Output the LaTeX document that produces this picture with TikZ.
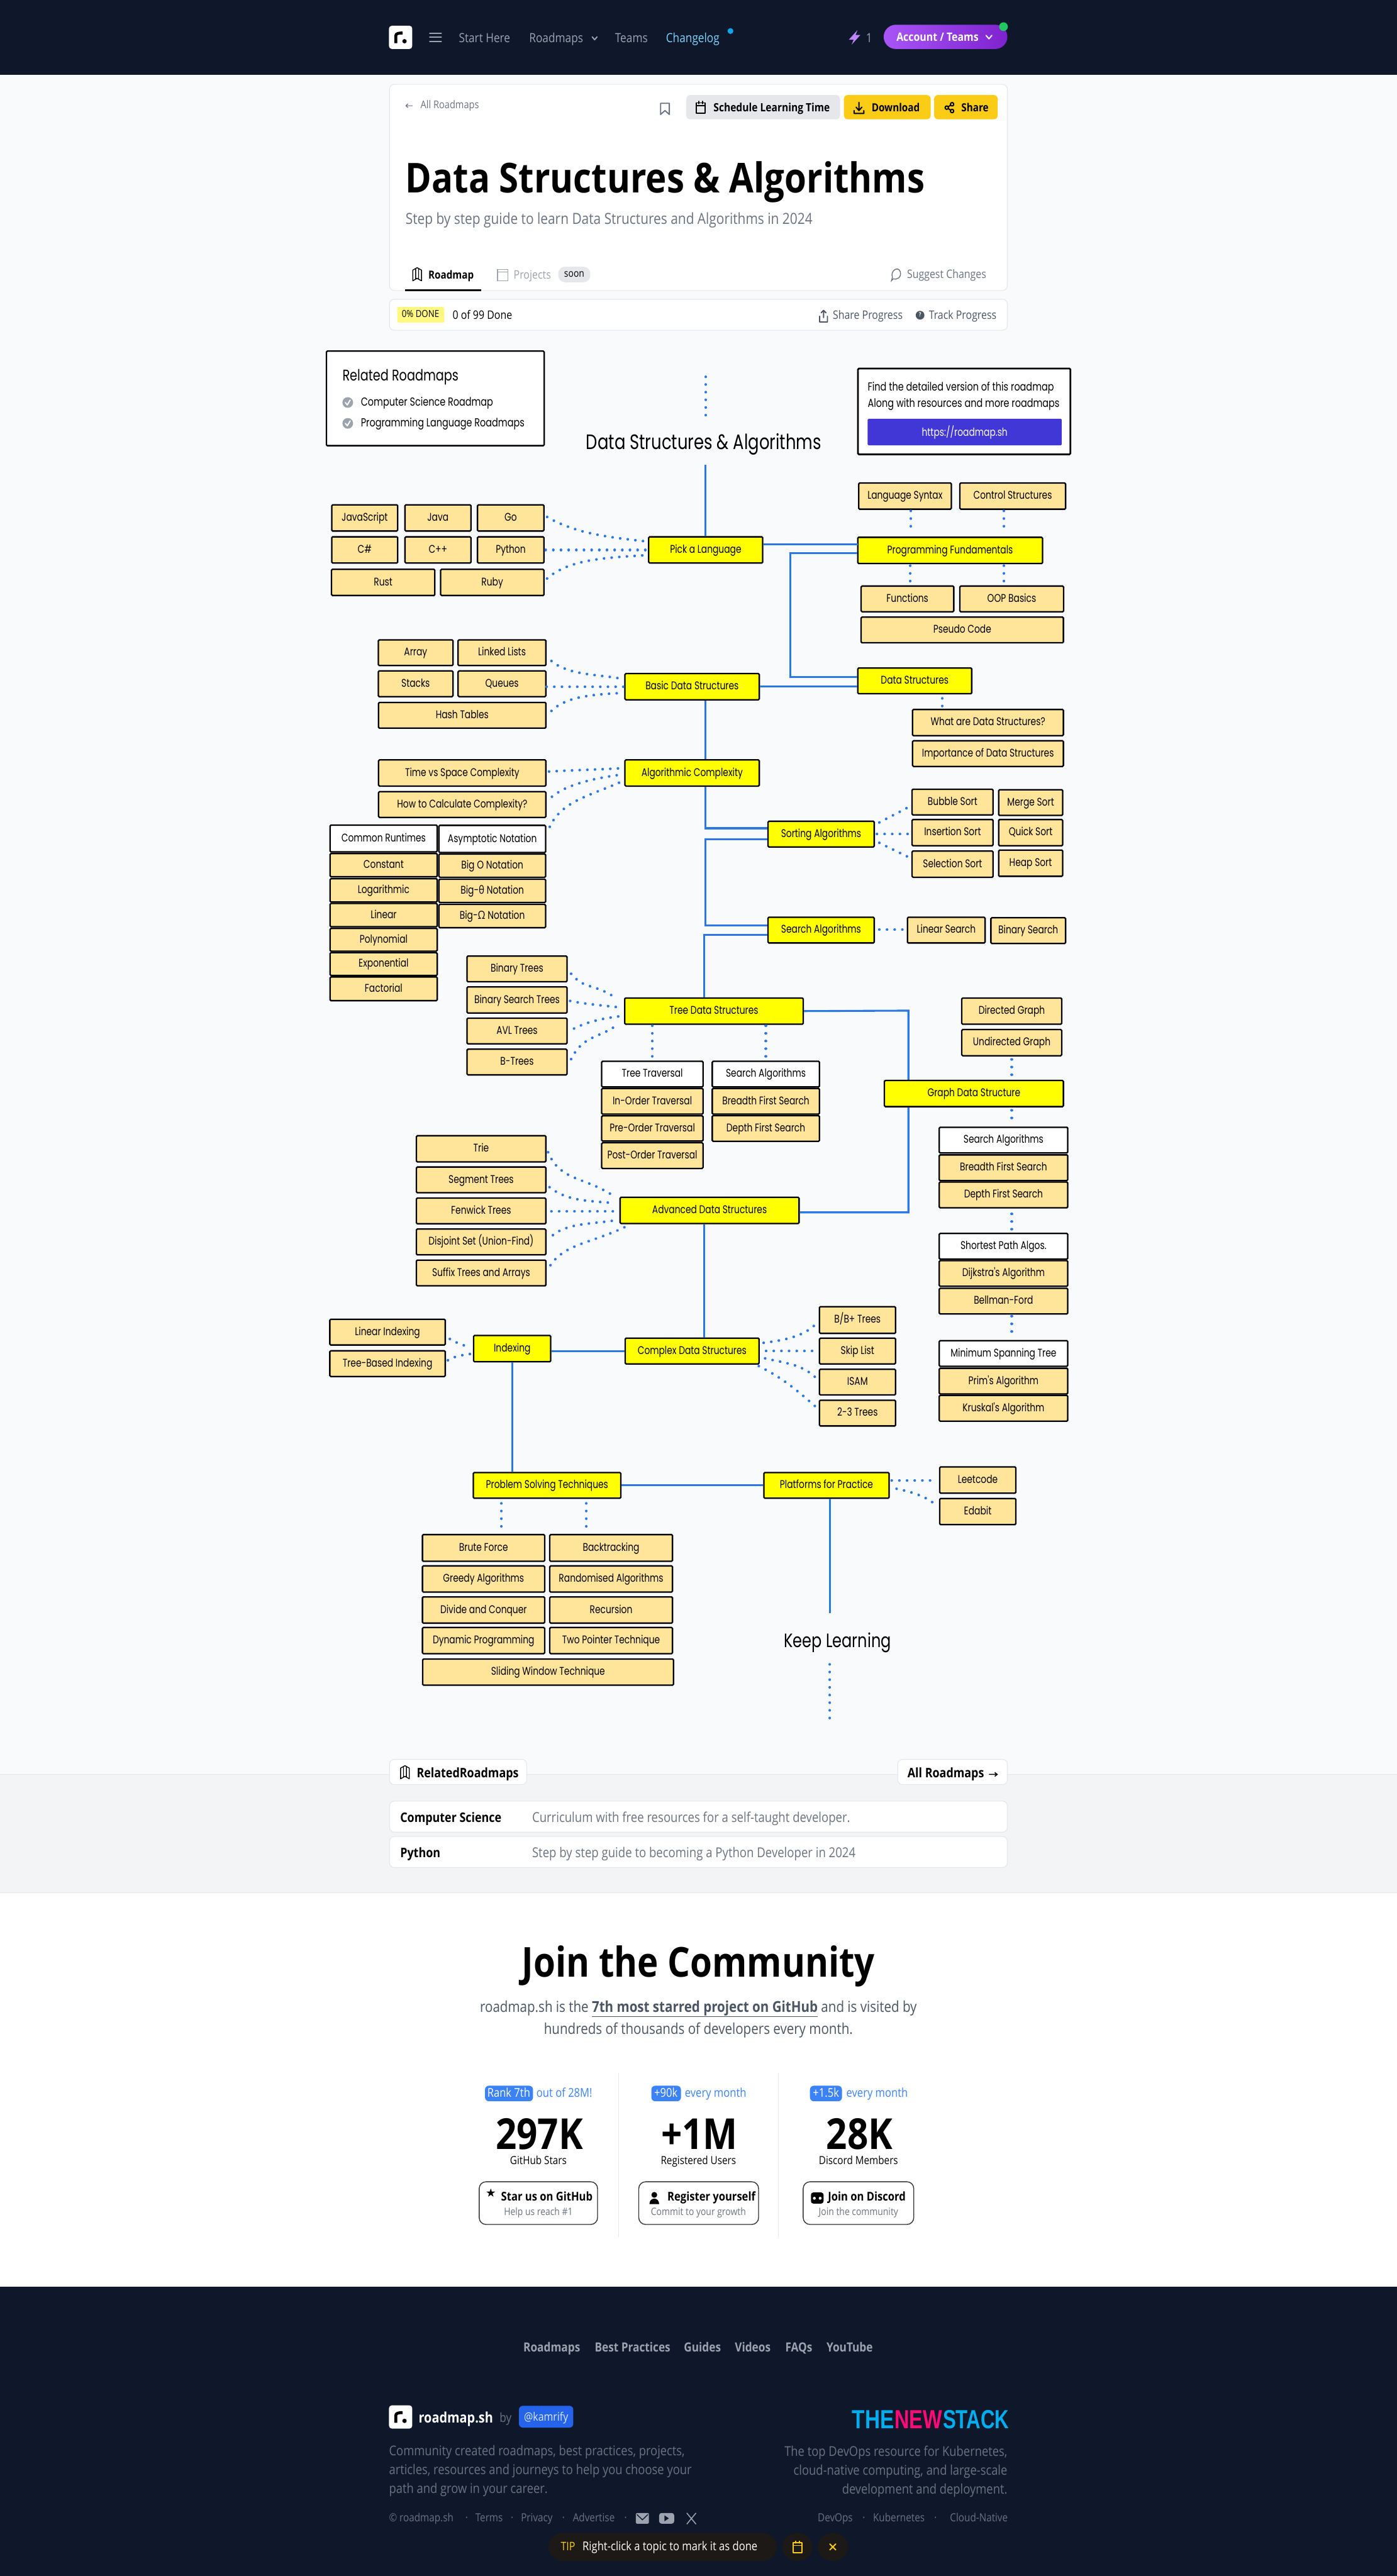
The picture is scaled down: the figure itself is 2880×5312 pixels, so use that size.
\documentclass[tikz,border=0pt]{standalone}
\usepackage{fontspec}
\usepackage{tikz}
\usetikzlibrary{calc}
\newfontfamily\uifont[FakeStretch=0.86]{Open Sans}
\newfontfamily\mapfont[FakeStretch=0.78]{Poppins}
\newfontfamily\logofont{Liberation Sans}
\definecolor{navy}{HTML}{0F172A}
\definecolor{pagebg}{HTML}{F9FAFB}
\definecolor{bandbg}{HTML}{F3F4F6}
\definecolor{edge}{HTML}{E5E7EB}
\definecolor{gray4}{HTML}{9CA3AF}
\definecolor{gray5}{HTML}{6B7280}
\definecolor{gray6}{HTML}{4B5563}
\definecolor{topicyellow}{HTML}{FFFF00}
\definecolor{subyellow}{HTML}{FFE599}
\definecolor{linkblue}{HTML}{2B78E4}
\definecolor{btnyellow}{HTML}{FACC15}
\definecolor{badgeblue}{HTML}{3B82F6}
\definecolor{visitbtn}{HTML}{4136D6}
\definecolor{pilllight}{HTML}{A855F7}
\definecolor{pilldark}{HTML}{7E22CE}
\definecolor{boltpurple}{HTML}{C084FC}
\definecolor{changeblue}{HTML}{7DD3FC}
\definecolor{changedot}{HTML}{0EA5E9}
\definecolor{onlinegreen}{HTML}{22C55E}
\definecolor{handleblue}{HTML}{2563EB}
\definecolor{handletext}{HTML}{DBEAFE}
\definecolor{stackcyan}{HTML}{00AEEF}
\definecolor{stackpink}{HTML}{FF0A78}
\definecolor{tipbg}{HTML}{1C1917}
\begin{document}
\begin{tikzpicture}[x=1pt,y=-1pt,
    ui/.style={font=\uifont\fontsize{#1}{#1}\selectfont, inner sep=0pt, yshift={(2.15-0.27*#1)*1pt}},
    mapt/.style={font=\mapfont\fontsize{#1}{#1}\selectfont, inner sep=0pt, yshift={(2.15-0.27*#1)*1pt}},
    mapbox/.style={draw=black, line width=3pt, rounded corners=2pt, inner sep=0pt, font=\mapfont\fontsize{23}{23}\selectfont, text height=16pt, text depth=3pt},
    topicbox/.style={mapbox, fill=topicyellow},
    subbox/.style={mapbox, fill=subyellow},
    headbox/.style={mapbox, fill=white},
    card/.style={draw=edge, line width=1.5pt, fill=white, rounded corners=10pt},
    btn/.style={rounded corners=8pt},
    solidlink/.style={draw=linkblue, line width=4pt},
    dotlink/.style={draw=linkblue, line width=5.5pt, line cap=round, dash pattern=on 0.1pt off 15.7pt},
    icon/.style={line width=2.5pt, line cap=round, line join=round},
]
\useasboundingbox (0,0) rectangle (2880,5312);
\fill[pagebg] (0,0) rectangle (2880,3659);
\fill[navy] (0,0) rectangle (2880,154);
\fill[bandbg] (0,3659) rectangle (2880,3903);
\draw[edge, line width=1.5pt] (0,3659) -- (2880,3659);
\draw[edge, line width=1.5pt] (0,3903) -- (2880,3903);
\fill[white] (0,3904) rectangle (2880,4716);
\fill[navy] (0,4716) rectangle (2880,5312);

\fill[white, rounded corners=6pt] (802,53) rectangle (850,101);
\draw[black, line width=6pt] (816,89) -- (816,74) .. controls (816,69) and (822,68) .. (830,68);
\fill[black] (834,85) circle (4.5);
\draw[gray4, icon] (886,69) -- (910,69) (886,77) -- (910,77) (886,85) -- (910,85);
\node[ui=26, text=gray4, anchor=mid west] (navstart) at (946,80) {Start Here};
\node[ui=26, text=gray4, anchor=mid west] (navroad) at (1091,80) {Roadmaps};
\draw[gray4, icon] (1221,76) -- (1226,82) -- (1231,76);
\node[ui=26, text=gray4, anchor=mid west] (navteams) at (1268,80) {Teams};
\node[ui=26, text=changeblue, anchor=mid west] (navchange) at (1373,80) {Changelog};
\fill[changedot] (1506,64) circle (6);
\fill[boltpurple] (1768,62) -- (1750,82) -- (1760,82) -- (1756,92) -- (1774,72) -- (1764,72) -- cycle;
\node[ui=26, text=gray4, anchor=mid] (navone) at (1792,80) {1};
\shade[left color=pilllight, right color=pilldark, rounded corners=25pt] (1822,51) rectangle (2077,101);
\node[ui=24, text=white, anchor=mid] (navaccount) at (1933,79) {\bfseries Account / Teams};
\draw[white, icon] (2033,73) -- (2039,80) -- (2045,73);
\fill[onlinegreen] (2069,55) circle (9);

\draw[card] (803,174) rectangle (2077,599);
\draw[gray5, line width=1.5pt] (851,218) -- (837,218) (841,214) -- (837,218) -- (841,222);
\node[ui=22, text=gray5, anchor=mid west] (allmaps) at (867,218) {All Roadmaps};
\draw[gray5, icon] (1362,213) -- (1380,213) -- (1380,236) -- (1371,228) -- (1362,236) -- cycle;
\fill[edge, btn] (1415,196) rectangle (1732,246);
\draw[black, icon] (1436,212) rectangle (1454,234) (1436,218) -- (1454,218) (1441,209) -- (1441,214) (1449,209) -- (1449,214);
\node[ui=23.5, anchor=mid west] (schedule) at (1471,224) {\bfseries Schedule Learning Time};
\fill[btnyellow, btn] (1740,196) rectangle (1919,246);
\draw[black, icon] (1771,211) -- (1771,227) (1765,221) -- (1771,228) -- (1777,221) (1761,228) -- (1761,234) -- (1781,234) -- (1781,228);
\node[ui=23, anchor=mid west] (download) at (1797,224) {\bfseries Download};
\fill[btnyellow, btn] (1926,196) rectangle (2057,246);
\draw[black, icon] (1963,215) -- (1952,222) -- (1963,229);
\draw[black, fill=btnyellow, icon] (1963,215) circle (3.5) (1952,222) circle (3.5) (1963,229) circle (3.5);
\node[ui=23, anchor=mid west] (sharebtn) at (1982,224) {\bfseries Share};
\node[ui=85, anchor=mid west] (pagetitle) at (836,374) {\bfseries Data Structures \& Algorithms};
\node[ui=31.5, text=gray5, anchor=mid west] (pagesub) at (836,454) {Step by step guide to learn Data Structures and Algorithms in 2024};
\draw[black, line width=1.8pt, line join=round] (851,557) -- (851,579) -- (860,574) -- (869,579) -- (869,557) -- (860,552) -- cycle (857,555) -- (857,576) (863,555) -- (863,576);
\node[ui=23, anchor=mid west] (tabmap) at (883,569) {\bfseries Roadmap};
\fill[black] (835,597) rectangle (992,600);
\draw[gray4, line width=1.8pt] (1026,556) rectangle (1047,579) (1026,561) -- (1047,561);
\node[ui=24, text=gray4, anchor=mid west] (tabproj) at (1059,569) {Projects};
\fill[edge, rounded corners=14pt] (1151,550) rectangle (1217,582);
\node[ui=21, anchor=mid] (soonpill) at (1184,566) {soon};
\draw[gray5, line width=1.8pt] (1838,579) -- (1840,572) .. controls (1835,558) and (1852,548) .. (1856,560) .. controls (1860,572) and (1848,578) .. (1842,575) -- cycle;
\node[ui=24, text=gray5, anchor=mid west] (suggest) at (1870,567) {Suggest Changes};
\draw[card] (803,617) rectangle (2077,681);
\fill[yellow!50!white, rounded corners=2pt] (819,633) rectangle (916,665);
\node[ui=20, anchor=mid] (donetag) at (867,649) {0\% DONE};
\node[ui=24, anchor=mid west] (donecount) at (933,652) {0 of 99 Done};
\draw[gray6, icon] (1698,640) -- (1698,655) (1693,645) -- (1698,640) -- (1703,645) (1690,652) -- (1690,664) -- (1706,664) -- (1706,652);
\node[ui=24, text=gray6, anchor=mid west] (shareprog) at (1717,652) {Share Progress};
\fill[gray6] (1897,650) circle (9);
\node[ui=12, text=white, anchor=mid] (trackmark) at (1897,650) {\bfseries ?};
\node[ui=24, text=gray6, anchor=mid west] (trackprog) at (1915,652) {Track Progress};

\draw[black, line width=3pt, fill=white, rounded corners=2pt] (673,724) rectangle (1122,919);
\node[mapt=32, anchor=mid west] (relatedtitle) at (706,776) {Related Roadmaps};
\fill[gray4] (717,830) circle (11);
\draw[white, icon] (712,830) -- (716,835) -- (722,825);
\node[mapt=24, anchor=mid west] (relatedcs) at (744,830) {Computer Science Roadmap};
\fill[gray4] (717,873) circle (11);
\draw[white, icon] (712,873) -- (716,878) -- (722,868);
\node[mapt=24, anchor=mid west] (relatedlang) at (744,873) {Programming Language Roadmaps};
\draw[black, line width=3.5pt, fill=white, rounded corners=2pt] (1769,760) rectangle (2207,937);
\node[mapt=24, anchor=mid west] (findone) at (1789,800) {Find the detailed version of this roadmap};
\node[mapt=24, anchor=mid west] (findtwo) at (1789,833) {Along with resources and more roadmaps};
\node[fill=visitbtn, rounded corners=2pt, minimum width=400pt, minimum height=55pt, inner sep=0pt, text=white, font=\mapfont\fontsize{23}{23}\selectfont] (visitbtn) at (1989,891) {https://roadmap.sh};

\node[mapt=43, anchor=mid] (maptitle) at (1451,915) {Data Structures \& Algorithms};
\coordinate (topend) at (1455,777);
\coordinate (topdots) at (1455,858);
\draw[dotlink] (topend) -- (topdots);

\node[topicbox, minimum width=235pt, minimum height=54pt] (pick) at (1455,1134) {Pick a Language};
\node[subbox, minimum width=136pt, minimum height=54pt] (javascript) at (752,1068) {JavaScript};
\node[subbox, minimum width=136pt, minimum height=54pt] (java) at (903,1068) {Java};
\node[subbox, minimum width=137pt, minimum height=54pt] (golang) at (1053,1068) {Go};
\node[subbox, minimum width=136pt, minimum height=54pt] (csharp) at (752,1134) {C\#};
\node[subbox, minimum width=136pt, minimum height=54pt] (cpp) at (903,1134) {C++};
\node[subbox, minimum width=137pt, minimum height=54pt] (python) at (1053,1134) {Python};
\node[subbox, minimum width=213pt, minimum height=54pt] (rust) at (790,1201) {Rust};
\node[subbox, minimum width=213pt, minimum height=54pt] (ruby) at (1015,1201) {Ruby};
\node[topicbox, minimum width=381pt, minimum height=54pt] (progfund) at (1959,1135) {Programming Fundamentals};
\node[subbox, minimum width=191pt, minimum height=54pt] (syntax) at (1866,1023) {Language Syntax};
\node[subbox, minimum width=218pt, minimum height=54pt] (control) at (2088,1023) {Control Structures};
\node[subbox, minimum width=191pt, minimum height=53pt] (functions) at (1871,1235) {Functions};
\node[subbox, minimum width=214pt, minimum height=53pt] (oop) at (2086,1235) {OOP Basics};
\node[subbox, minimum width=417pt, minimum height=53pt] (pseudo) at (1984,1299) {Pseudo Code};
\node[topicbox, minimum width=235pt, minimum height=53pt] (datastruct) at (1886,1404) {Data Structures};
\node[subbox, minimum width=311pt, minimum height=54pt] (whatds) at (2037,1490) {What are Data Structures?};
\node[subbox, minimum width=311pt, minimum height=53pt] (importds) at (2037,1554) {Importance of Data Structures};
\node[topicbox, minimum width=277pt, minimum height=54pt] (basic) at (1427,1416) {Basic Data Structures};
\node[subbox, minimum width=154pt, minimum height=53pt] (array) at (857,1346) {Array};
\node[subbox, minimum width=181pt, minimum height=53pt] (linked) at (1035,1346) {Linked Lists};
\node[subbox, minimum width=154pt, minimum height=53pt] (stacks) at (857,1410) {Stacks};
\node[subbox, minimum width=181pt, minimum height=53pt] (queues) at (1035,1410) {Queues};
\node[subbox, minimum width=345pt, minimum height=53pt] (hash) at (953,1475) {Hash Tables};
\node[topicbox, minimum width=277pt, minimum height=54pt] (algo) at (1427,1594) {Algorithmic Complexity};
\node[subbox, minimum width=345pt, minimum height=54pt] (timespace) at (953,1594) {Time vs Space Complexity};
\node[subbox, minimum width=345pt, minimum height=53pt] (howcalc) at (953,1659) {How to Calculate Complexity?};
\node[headbox, minimum width=221pt, minimum height=55pt] (runtimes) at (791,1729) {Common Runtimes};
\node[subbox, minimum width=221pt, minimum height=48pt] (constant) at (791,1784) {Constant};
\node[subbox, minimum width=221pt, minimum height=48pt] (logarithmic) at (791,1836) {Logarithmic};
\node[subbox, minimum width=221pt, minimum height=48pt] (linear) at (791,1887) {Linear};
\node[subbox, minimum width=221pt, minimum height=47pt] (polynomial) at (791,1938) {Polynomial};
\node[subbox, minimum width=221pt, minimum height=47pt] (exponential) at (791,1988) {Exponential};
\node[subbox, minimum width=221pt, minimum height=49pt] (factorial) at (791,2039) {Factorial};
\node[headbox, minimum width=220pt, minimum height=56pt] (asymptotic) at (1015,1730) {Asymptotic Notation};
\node[subbox, minimum width=220pt, minimum height=48pt] (bigo) at (1015,1785) {Big O Notation};
\node[subbox, minimum width=220pt, minimum height=48pt] (bigtheta) at (1015,1837) {Big-{\uifont θ} Notation};
\node[subbox, minimum width=220pt, minimum height=48pt] (bigomega) at (1015,1889) {Big-{\uifont Ω} Notation};
\node[topicbox, minimum width=219pt, minimum height=53pt] (sorting) at (1693,1720) {Sorting Algorithms};
\node[subbox, minimum width=167pt, minimum height=53pt] (bubble) at (1964,1654) {Bubble Sort};
\node[subbox, minimum width=167pt, minimum height=54pt] (insertion) at (1964,1717) {Insertion Sort};
\node[subbox, minimum width=167pt, minimum height=54pt] (selection) at (1964,1782) {Selection Sort};
\node[subbox, minimum width=132pt, minimum height=53pt] (merge) at (2125,1655) {Merge Sort};
\node[subbox, minimum width=132pt, minimum height=54pt] (quick) at (2125,1717) {Quick Sort};
\node[subbox, minimum width=132pt, minimum height=54pt] (heap) at (2125,1780) {Heap Sort};
\node[topicbox, minimum width=219pt, minimum height=53pt] (searching) at (1693,1918) {Search Algorithms};
\node[subbox, minimum width=160pt, minimum height=53pt] (linsearch) at (1951,1918) {Linear Search};
\node[subbox, minimum width=154pt, minimum height=53pt] (binsearch) at (2120,1919) {Binary Search};
\node[topicbox, minimum width=368pt, minimum height=54pt] (trees) at (1472,2085) {Tree Data Structures};
\node[subbox, minimum width=206pt, minimum height=53pt] (bintree) at (1066,1998) {Binary Trees};
\node[subbox, minimum width=206pt, minimum height=54pt] (bst) at (1066,2062) {Binary Search Trees};
\node[subbox, minimum width=206pt, minimum height=53pt] (avl) at (1066,2126) {AVL Trees};
\node[subbox, minimum width=206pt, minimum height=53pt] (btree) at (1066,2190) {B-Trees};
\node[headbox, minimum width=209pt, minimum height=53pt] (traversal) at (1345,2215) {Tree Traversal};
\node[subbox, minimum width=209pt, minimum height=53pt] (inorder) at (1345,2271) {In-Order Traversal};
\node[subbox, minimum width=209pt, minimum height=52pt] (preorder) at (1345,2327) {Pre-Order Traversal};
\node[subbox, minimum width=209pt, minimum height=53pt] (postorder) at (1345,2383) {Post-Order Traversal};
\node[headbox, minimum width=221pt, minimum height=53pt] (treesearch) at (1579,2215) {Search Algorithms};
\node[subbox, minimum width=221pt, minimum height=53pt] (treebfs) at (1579,2271) {Breadth First Search};
\node[subbox, minimum width=221pt, minimum height=53pt] (treedfs) at (1579,2327) {Depth First Search};
\node[subbox, minimum width=206pt, minimum height=54pt] (directed) at (2086,2085) {Directed Graph};
\node[subbox, minimum width=206pt, minimum height=54pt] (undirected) at (2086,2150) {Undirected Graph};
\node[topicbox, minimum width=369pt, minimum height=54pt] (advanced) at (1463,2496) {Advanced Data Structures};
\draw[solidlink] (trees.east) -- (1873,2084) -- (1873,2500) -- (advanced.east |- 1873,2500);
\node[topicbox, minimum width=369pt, minimum height=54pt] (graphds) at (2008,2255) {Graph Data Structure};
\node[headbox, minimum width=265pt, minimum height=53pt] (graphsearch) at (2069,2351) {Search Algorithms};
\node[subbox, minimum width=265pt, minimum height=53pt] (graphbfs) at (2069,2408) {Breadth First Search};
\node[subbox, minimum width=265pt, minimum height=53pt] (graphdfs) at (2069,2464) {Depth First Search};
\node[headbox, minimum width=265pt, minimum height=53pt] (shortest) at (2069,2570) {Shortest Path Algos.};
\node[subbox, minimum width=265pt, minimum height=53pt] (dijkstra) at (2069,2626) {Dijkstra's Algorithm};
\node[subbox, minimum width=265pt, minimum height=53pt] (bellman) at (2069,2683) {Bellman-Ford};
\node[headbox, minimum width=265pt, minimum height=53pt] (spanning) at (2069,2791) {Minimum Spanning Tree};
\node[subbox, minimum width=265pt, minimum height=53pt] (prim) at (2069,2848) {Prim's Algorithm};
\node[subbox, minimum width=265pt, minimum height=53pt] (kruskal) at (2069,2904) {Kruskal's Algorithm};
\node[subbox, minimum width=267pt, minimum height=54pt] (trie) at (992,2369) {Trie};
\node[subbox, minimum width=267pt, minimum height=53pt] (segment) at (992,2433) {Segment Trees};
\node[subbox, minimum width=267pt, minimum height=53pt] (fenwick) at (992,2497) {Fenwick Trees};
\node[subbox, minimum width=267pt, minimum height=53pt] (disjoint) at (992,2561) {Disjoint Set (Union-Find)};
\node[subbox, minimum width=267pt, minimum height=53pt] (suffix) at (992,2625) {Suffix Trees and Arrays};
\node[topicbox, minimum width=276pt, minimum height=53pt] (complexds) at (1427,2786) {Complex Data Structures};
\node[subbox, minimum width=157pt, minimum height=55pt] (bplus) at (1768,2722) {B/B+ Trees};
\node[subbox, minimum width=157pt, minimum height=53pt] (skiplist) at (1768,2786) {Skip List};
\node[subbox, minimum width=157pt, minimum height=53pt] (isam) at (1768,2850) {ISAM};
\node[subbox, minimum width=157pt, minimum height=53pt] (twothree) at (1768,2914) {2-3 Trees};
\node[topicbox, minimum width=159pt, minimum height=54pt] (indexing) at (1056,2781) {Indexing};
\node[subbox, minimum width=238pt, minimum height=53pt] (linindex) at (799,2747) {Linear Indexing};
\node[subbox, minimum width=238pt, minimum height=53pt] (treeindex) at (799,2812) {Tree-Based Indexing};
\node[topicbox, minimum width=304pt, minimum height=53pt] (problem) at (1128,3063) {Problem Solving Techniques};
\node[topicbox, minimum width=258pt, minimum height=53pt] (platforms) at (1704,3063) {Platforms for Practice};
\node[subbox, minimum width=157pt, minimum height=54pt] (leetcode) at (2016,3052) {Leetcode};
\node[subbox, minimum width=157pt, minimum height=54pt] (edabit) at (2016,3117) {Edabit};
\node[subbox, minimum width=252pt, minimum height=55pt] (brute) at (997,3192) {Brute Force};
\node[subbox, minimum width=253pt, minimum height=55pt] (backtrack) at (1260,3192) {Backtracking};
\node[subbox, minimum width=252pt, minimum height=54pt] (greedy) at (997,3256) {Greedy Algorithms};
\node[subbox, minimum width=253pt, minimum height=54pt] (randomised) at (1260,3256) {Randomised Algorithms};
\node[subbox, minimum width=252pt, minimum height=54pt] (divide) at (997,3320) {Divide and Conquer};
\node[subbox, minimum width=253pt, minimum height=54pt] (recursion) at (1260,3320) {Recursion};
\node[subbox, minimum width=252pt, minimum height=54pt] (dynamic) at (997,3383) {Dynamic Programming};
\node[subbox, minimum width=253pt, minimum height=54pt] (twopointer) at (1260,3383) {Two Pointer Technique};
\node[subbox, minimum width=517pt, minimum height=54pt] (sliding) at (1130,3448) {Sliding Window Technique};
\node[mapt=40, anchor=mid] (keeplearn) at (1727,3386) {Keep Learning};

\coordinate (titlestub) at (1455,958);
\draw[solidlink] (titlestub) -- (pick.north);
\draw[solidlink] ($(pick.east)+(0,-11)$) -- ($(pick.east)+(195,-11)$);
\draw[solidlink] ($(progfund.west)+(0,6)$) -- (1630,1141) -- (1630,1396) -- ($(datastruct.west)+(0,-8)$);
\draw[solidlink] (basic.east) -- (basic.east -| datastruct.west);
\draw[solidlink] (basic.south -| 1454,0) -- (algo.north -| 1454,0);
\draw[solidlink] (algo.south -| 1454,0) -- (1454,1708) -- ($(sorting.west)+(0,-12)$);
\draw[solidlink] ($(sorting.west)+(0,11)$) -- (1454,1731) -- (1454,1908) -- ($(searching.west)+(0,-10)$);
\draw[solidlink] ($(searching.west)+(0,10)$) -- (1452,1928) -- (trees.north -| 1452,0);
\draw[solidlink] (advanced.south -| 1452,0) -- (complexds.north -| 1452,0);
\draw[solidlink] (complexds.west) -- (indexing.east |- complexds.west);
\draw[solidlink] (indexing.south) -- (indexing.south |- problem.north);
\draw[solidlink] (problem.east) -- (platforms.west);
\coordinate (keepstub) at (1711,3326);
\draw[solidlink] (platforms.south -| keepstub) -- (keepstub);
\coordinate (keepdots) at (1711,3432);
\coordinate (keepend) at (1711,3556);
\draw[dotlink] (keepdots) -- (keepend);

\draw[dotlink] ($(golang.east)+(5,-2)$) .. controls +(60,35) and +(-70,-8) .. ($(pick.west)+(-8,-18)$);
\draw[dotlink] ($(python.east)+(2,0)$) -- ($(pick.west)+(-2,0)$);
\draw[dotlink] ($(ruby.east)+(5,-8)$) .. controls +(45,-40) and +(-80,5) .. ($(pick.west)+(-6,11)$);
\draw[dotlink] ($(linked.east)+(10,17)$) .. controls +(35,30) and +(-50,-10) .. ($(basic.west)+(-4,-16)$);
\draw[dotlink] (queues.east |- basic.west) -- (basic.west);
\draw[dotlink] ($(hash.east)+(10,-9)$) .. controls +(30,-30) and +(-60,3) .. ($(basic.west)+(-4,13)$);
\draw[dotlink] ($(timespace.east)+(5,-3)$) .. controls +(50,-3) and +(-50,3) .. ($(algo.west)+(-3,-10)$);
\draw[dotlink] ($(howcalc.east)+(11,-16)$) .. controls +(30,-25) and +(-60,8) .. ($(algo.west)+(-4,3)$);
\draw[dotlink] ($(asymptotic.east)+(7,-25)$) .. controls +(25,-55) and +(-60,28) .. ($(algo.west)+(-4,17)$);
\draw[dotlink] ($(sorting.east)+(9,-24)$) -- ($(bubble.west)+(-7,11)$);
\draw[dotlink] ($(sorting.east)+(4,0)$) -- ($(insertion.west)+(-7,3)$);
\draw[dotlink] ($(sorting.east)+(9,18)$) -- ($(selection.west)+(-7,-15)$);
\draw[dotlink] ($(searching.east)+(9,-1)$) -- ($(linsearch.west)+(-8,-1)$);
\draw[dotlink] ($(bintree.east)+(7,10)$) .. controls +(30,35) and +(-50,-35) .. ($(trees.west)+(-14,-25)$);
\draw[dotlink] ($(bst.east)+(5,2)$) .. controls +(40,8) and +(-40,-5) .. ($(trees.west)+(-4,-7)$);
\draw[dotlink] ($(avl.east)+(13,-5)$) .. controls +(30,-15) and +(-40,5) .. ($(trees.west)+(-4,10)$);
\draw[dotlink] ($(btree.east)+(7,-6)$) .. controls +(25,-50) and +(-40,30) .. ($(trees.west)+(-12,27)$);
\draw[dotlink] ($(traversal.north)+(0,-72)$) -- ($(traversal.north)+(0,-3)$);
\draw[dotlink] ($(treesearch.north)+(0,-72)$) -- ($(treesearch.north)+(0,-3)$);
\draw[dotlink] ($(undirected.south)+(0,6)$) -- ($(graphds.north -| undirected.south)+(0,-5)$);
\draw[dotlink] ($(graphds.south -| undirected.south)+(0,6)$) -- ($(graphsearch.north -| undirected.south)+(0,-3)$);
\draw[dotlink] ($(graphdfs.south -| undirected.south)+(0,11)$) -- ($(shortest.north -| undirected.south)+(0,-6)$);
\draw[dotlink] ($(bellman.south -| undirected.south)+(0,3)$) -- ($(spanning.north -| undirected.south)+(0,-3)$);
\draw[dotlink] ($(syntax.south -| 1878,0)+(0,2)$) -- ($(progfund.north -| 1878,0)+(0,-7)$);
\draw[dotlink] ($(control.south -| 2070,0)+(0,2)$) -- ($(progfund.north -| 2070,0)+(0,-7)$);
\draw[dotlink] ($(progfund.south -| 1877,0)+(0,3)$) -- ($(functions.north -| 1877,0)+(0,-2)$);
\draw[dotlink] ($(progfund.south -| 2070,0)+(0,3)$) -- ($(oop.north -| 2070,0)+(0,-2)$);
\draw[dotlink] ($(datastruct.south -| 1943,0)+(0,8)$) -- ($(whatds.north -| 1943,0)+(0,-2)$);
\draw[dotlink] ($(trie.east)+(3,7)$) .. controls +(25,60) and +(-60,-40) .. ($(advanced.west)+(-12,-30)$);
\draw[dotlink] ($(segment.east)+(6,15)$) .. controls +(35,28) and +(-60,-5) .. ($(advanced.west)+(-9,-15)$);
\draw[dotlink] ($(fenwick.east)+(10,1)$) -- ($(advanced.west)+(-2,2)$);
\draw[dotlink] ($(disjoint.east)+(13,-14)$) .. controls +(30,-25) and +(-50,8) .. ($(advanced.west)+(-5,20)$);
\draw[dotlink] ($(suffix.east)+(8,-16)$) .. controls +(30,-45) and +(-70,35) .. ($(advanced.west)+(16,32)$);
\draw[dotlink] ($(complexds.east)+(8,-17)$) .. controls +(40,-5) and +(-25,30) .. ($(bplus.west)+(-2,4)$);
\draw[dotlink] ($(complexds.east)+(13,0)$) -- ($(skiplist.west)+(-2,0)$);
\draw[dotlink] ($(complexds.east)+(11,15)$) .. controls +(40,10) and +(-30,-30) .. ($(isam.west)+(-5,-8)$);
\draw[dotlink] ($(complexds.east)+(-2,31)$) .. controls +(40,20) and +(-50,-45) .. ($(twothree.west)+(-5,-12)$);
\draw[dotlink] ($(linindex.east)+(8,14)$) .. controls +(12,8) and +(-15,-6) .. ($(indexing.west)+(-6,-2)$);
\draw[dotlink] ($(treeindex.east)+(4,-7)$) .. controls +(12,-8) and +(-15,2) .. ($(indexing.west)+(-6,11)$);
\draw[dotlink] ($(problem.south -| 1034,0)+(0,9)$) -- ($(brute.north -| 1034,0)+(0,-1)$);
\draw[dotlink] ($(problem.south -| 1209,0)+(0,9)$) -- ($(backtrack.north -| 1209,0)+(0,-1)$);
\draw[dotlink] ($(platforms.east)+(4,-10)$) -- ($(leetcode.west)+(-8,1)$);
\draw[dotlink] ($(platforms.east)+(14,7)$) .. controls +(25,5) and +(-20,-20) .. ($(edabit.west)+(-5,-12)$);

\draw[card] (803,3628) rectangle (1086,3680);
\draw[black, line width=1.8pt, line join=round] (826,3646) -- (826,3668) -- (835,3663) -- (844,3668) -- (844,3646) -- (835,3641) -- cycle (832,3644) -- (832,3665) (838,3644) -- (838,3665);
\node[ui=27, anchor=mid west] (relatedtab) at (859,3658) {\bfseries RelatedRoadmaps};
\draw[card] (1851,3628) rectangle (2077,3680);
\node[ui=27, anchor=mid west] (allroadtab) at (1871,3658) {\bfseries All Roadmaps};
\draw[black, line width=2pt] (2039,3659) -- (2056,3659) (2051,3655) -- (2056,3659) -- (2051,3663);
\draw[card] (803,3714) rectangle (2077,3778);
\node[ui=27, anchor=mid west] (rowcs) at (825,3750) {\bfseries Computer Science};
\node[ui=28, text=gray5, anchor=mid west] (rowcsdesc) at (1097,3750) {Curriculum with free resources for a self-taught developer.};
\draw[card] (803,3787) rectangle (2077,3851);
\node[ui=27, anchor=mid west] (rowpy) at (825,3823) {\bfseries Python};
\node[ui=28, text=gray5, anchor=mid west] (rowpydesc) at (1097,3823) {Step by step guide to becoming a Python Developer in 2024};

\node[ui=85, anchor=mid] (jointitle) at (1440,4054) {\bfseries Join the Community};
\node[ui=31, text=gray6, anchor=mid] (joinline) at (1440,4141) {roadmap.sh is the \textbf{\underline{7th most starred project on GitHub}} and is visited by};
\node[ui=31, text=gray6, anchor=mid] (joinlinetwo) at (1440,4186) {hundreds of thousands of developers every month.};
\draw[edge, line width=1.5pt] (1275,4275) -- (1275,4613) (1605,4275) -- (1605,4613);
\fill[badgeblue, rounded corners=8pt] (1000,4301) rectangle (1099,4333);
\node[ui=25, text=white, anchor=mid] (rankbadge) at (1049,4318) {Rank 7th};
\node[ui=25, text=badgeblue, anchor=mid west] (ranktext) at (1106,4318) {out of 28M!};
\fill[badgeblue, rounded corners=8pt] (1343,4301) rectangle (1404,4333);
\node[ui=25, text=white, anchor=mid] (userbadge) at (1373,4318) {+90k};
\node[ui=25, text=badgeblue, anchor=mid west] (usertext) at (1412,4318) {every month};
\fill[badgeblue, rounded corners=8pt] (1670,4301) rectangle (1736,4333);
\node[ui=25, text=white, anchor=mid] (discbadge) at (1703,4318) {+1.5k};
\node[ui=25, text=badgeblue, anchor=mid west] (disctext) at (1745,4318) {every month};
\node[ui=88, anchor=mid] (starcount) at (1112,4408) {\bfseries 297K};
\node[ui=88, anchor=mid] (usercount) at (1442,4408) {\bfseries +1M};
\node[ui=88, anchor=mid] (disccount) at (1772,4408) {\bfseries 28K};
\node[ui=23, anchor=mid] (starlabel) at (1110,4457) {GitHub Stars};
\node[ui=23, anchor=mid] (userlabel) at (1440,4457) {Registered Users};
\node[ui=23, anchor=mid] (disclabel) at (1770,4457) {Discord Members};
\draw[black!80, line width=1.8pt, rounded corners=14pt] (988,4499) rectangle (1232,4587);
\node[font=\fontspec{DejaVu Sans}\fontsize{24}{24}\selectfont, inner sep=0pt, anchor=mid] (staricon) at (1012,4528) {★};
\node[ui=25, anchor=mid west] (starbtn) at (1033,4532) {\bfseries Star us on GitHub};
\node[ui=21, text=gray5, anchor=mid] (starsub) at (1110,4563) {Help us reach \#1};
\draw[black!80, line width=1.8pt, rounded corners=14pt] (1317,4499) rectangle (1564,4587);
\fill[black] (1349,4526) circle (6) (1339,4545) .. controls (1339,4530) and (1359,4530) .. (1359,4545) -- cycle;
\node[ui=25, anchor=mid west] (userbtn) at (1376,4532) {\bfseries Register yourself};
\node[ui=21, text=gray5, anchor=mid] (usersub) at (1440,4563) {Commit to your growth};
\draw[black!80, line width=1.8pt, rounded corners=14pt] (1656,4499) rectangle (1884,4587);
\fill[black, rounded corners=5pt] (1672,4521) rectangle (1698,4544);
\fill[white] (1679,4533) circle (3) (1691,4533) circle (3);
\node[ui=25, anchor=mid west] (discbtn) at (1707,4532) {\bfseries Join on Discord};
\node[ui=21, text=gray5, anchor=mid] (discsub) at (1770,4563) {Join the community};

\node[ui=26, text=gray4, anchor=mid west] (footroad) at (1079,4842) {\bfseries Roadmaps};
\node[ui=26, text=gray4, anchor=mid west] (footbest) at (1226,4842) {\bfseries Best Practices};
\node[ui=26, text=gray4, anchor=mid west] (footguides) at (1410,4842) {\bfseries Guides};
\node[ui=26, text=gray4, anchor=mid west] (footvideos) at (1515,4842) {\bfseries Videos};
\node[ui=26, text=gray4, anchor=mid west] (footfaqs) at (1619,4842) {\bfseries FAQs};
\node[ui=26, text=gray4, anchor=mid west] (footyt) at (1704,4842) {\bfseries YouTube};
\fill[white, rounded corners=6pt] (802,4960) rectangle (850,5008);
\draw[black, line width=6pt] (816,4996) -- (816,4981) .. controls (816,4976) and (822,4975) .. (830,4975);
\fill[black] (834,4992) circle (4.5);
\node[ui=30, text=white, anchor=mid west] (footbrand) at (863,4988) {\bfseries roadmap.sh};
\node[ui=26, text=gray5, anchor=mid west] (footby) at (1030,4988) {by};
\fill[handleblue, rounded corners=8pt] (1070,4961) rectangle (1182,5006);
\node[ui=24, text=handletext, anchor=mid] (footkam) at (1126,4986) {@kamrify};
\node[font=\logofont\bfseries\fontsize{54}{54}\selectfont, inner sep=0pt, anchor=base west, text=stackcyan] (thelogo) at (1757,5008) {\scalebox{0.8}[1]{THE}};
\node[font=\logofont\bfseries\fontsize{54}{54}\selectfont, inner sep=0pt, anchor=base west, text=stackpink] (newlogo) at (1844,5008) {\scalebox{0.78}[1]{NEW}};
\node[font=\logofont\bfseries\fontsize{54}{54}\selectfont, inner sep=0pt, anchor=base west, text=stackcyan] (stacklogo) at (1944,5008) {\scalebox{0.75}[1]{STACK}};
\node[ui=27.7, text=gray5, anchor=mid west] (leftone) at (802,5056) {Community created roadmaps, best practices, projects,};
\node[ui=27.7, text=gray5, anchor=mid west] (lefttwo) at (802,5095) {articles, resources and journeys to help you choose your};
\node[ui=27.7, text=gray5, anchor=mid west] (leftthree) at (802,5134) {path and grow in your career.};
\node[ui=27.7, text=gray5, anchor=mid east] (rightone) at (2077,5058) {The top DevOps resource for Kubernetes,};
\node[ui=27.7, text=gray5, anchor=mid east] (righttwo) at (2077,5096) {cloud-native computing, and large-scale};
\node[ui=27.7, text=gray5, anchor=mid east] (rightthree) at (2077,5135) {development and deployment.};
\node[ui=23, text=gray5, anchor=mid west] (footcopy) at (802,5193) {© roadmap.sh};
\node[ui=23, text=gray5, anchor=mid] (dotone) at (962,5193) {·};
\node[ui=23, text=gray5, anchor=mid west] (footterms) at (980,5193) {Terms};
\node[ui=23, text=gray5, anchor=mid] (dottwo) at (1056,5193) {·};
\node[ui=23, text=gray5, anchor=mid west] (footpriv) at (1074,5193) {Privacy};
\node[ui=23, text=gray5, anchor=mid] (dotthree) at (1162,5193) {·};
\node[ui=23, text=gray5, anchor=mid west] (footadv) at (1181,5193) {Advertise};
\node[ui=23, text=gray5, anchor=mid] (dotfour) at (1290,5193) {·};
\fill[gray4, rounded corners=2pt] (1311,5182) rectangle (1338,5204);
\draw[navy, line width=1.8pt] (1313,5185) -- (1324.5,5196) -- (1336,5185);
\fill[gray4, rounded corners=5pt] (1359,5182) rectangle (1390,5204);
\fill[navy] (1370,5187) -- (1370,5199) -- (1379,5193) -- cycle;
\draw[gray4, line width=2pt] (1416,5182) -- (1435,5205) (1435,5182) -- (1416,5205);
\node[ui=23, text=gray5, anchor=mid west] (footdevops) at (1686,5194) {DevOps};
\node[ui=23, text=gray5, anchor=mid] (dotfive) at (1781,5194) {·};
\node[ui=23, text=gray5, anchor=mid west] (footkube) at (1800,5194) {Kubernetes};
\node[ui=23, text=gray5, anchor=mid] (dotsix) at (1929,5194) {·};
\node[ui=23, text=gray5, anchor=mid east] (footcloud) at (2078,5194) {Cloud-Native};
\fill[tipbg, rounded corners=29pt] (1131,5223) rectangle (1601,5281);
\node[ui=24, text=btnyellow, anchor=mid west] (tiplabel) at (1156,5253) {TIP};
\node[ui=25, text=white, anchor=mid west] (tiptext) at (1201,5253) {Right-click a topic to mark it as done};
\fill[tipbg] (1644,5252) ellipse (31 and 29);
\draw[btnyellow, icon] (1635,5243) rectangle (1653,5264) (1635,5249) -- (1653,5249) (1640,5240) -- (1640,5244) (1648,5240) -- (1648,5244);
\fill[tipbg] (1717,5252) ellipse (31 and 29);
\draw[btnyellow, icon] (1711,5246) -- (1723,5258) (1723,5246) -- (1711,5258);
\end{tikzpicture}
\end{document}
